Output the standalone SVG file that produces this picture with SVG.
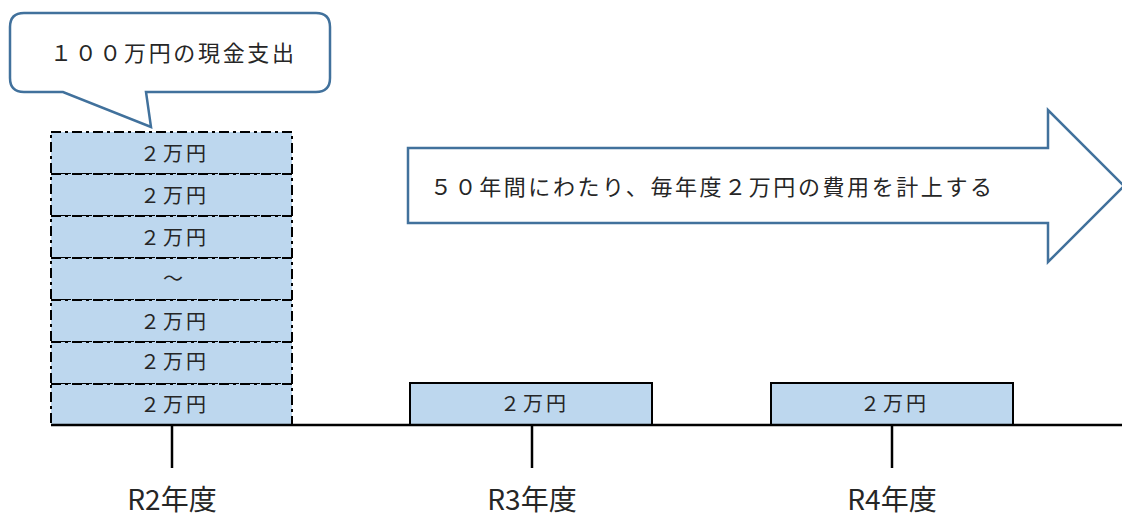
<svg xmlns="http://www.w3.org/2000/svg" width="1122" height="520" viewBox="0 0 1122 520">
<style>
.t{font-family:"Noto Sans CJK JP","Noto Sans",sans-serif;fill:#262626;}
.blue{fill:#fff;stroke:#41719C;stroke-width:2.5;stroke-linejoin:miter;}
.cell{fill:#BDD7EE;stroke:#000;stroke-width:2;stroke-dasharray:10,4,3,4;}
.box{fill:#BDD7EE;stroke:#000;stroke-width:2;}
.ln{stroke:#000;stroke-width:2.5;fill:none;}
</style>
<rect width="1122" height="520" fill="#fff"/>
<g id="callout">
<path class="blue" d="M24,13 H316 Q330,13 330,27 V78 Q330,92 316,92 H146 L151,127 L63,92 H24 Q10,92 10,78 V27 Q10,13 24,13 Z"/>
<text class="t" x="50" y="61" font-size="22" textLength="244" lengthAdjust="spacing">１００万円の現金支出</text>
</g>
<g id="stack">
<rect class="cell" x="51" y="132" width="241" height="42"/>
<rect class="cell" x="51" y="174" width="241" height="42"/>
<rect class="cell" x="51" y="216" width="241" height="42"/>
<rect class="cell" x="51" y="258" width="241" height="42"/>
<rect class="cell" x="51" y="300" width="241" height="42"/>
<rect class="cell" x="51" y="342" width="241" height="42"/>
<rect class="cell" x="51" y="384" width="241" height="41"/>
<g class="t" font-size="20">
<text x="140" y="161" textLength="66" lengthAdjust="spacing">２万円</text>
<text x="140" y="203" textLength="66" lengthAdjust="spacing">２万円</text>
<text x="140" y="245" textLength="66" lengthAdjust="spacing">２万円</text>
<text x="173" y="286" text-anchor="middle">～</text>
<text x="140" y="329" textLength="66" lengthAdjust="spacing">２万円</text>
<text x="140" y="369" textLength="66" lengthAdjust="spacing">２万円</text>
<text x="140" y="412" textLength="66" lengthAdjust="spacing">２万円</text>
</g>
</g>
<g id="arrow">
<path class="blue" d="M408,148 H1048 V110 L1124,186 L1048,262 V223 H408 Z"/>
<text class="t" x="430" y="195" font-size="22" textLength="562" lengthAdjust="spacing">５０年間にわたり、毎年度２万円の費用を計上する</text>
</g>
<g id="box-r3">
<rect class="box" x="410" y="383" width="242" height="42"/>
<text class="t" x="500" y="411" font-size="20" textLength="66" lengthAdjust="spacing">２万円</text>
</g>
<g id="box-r4">
<rect class="box" x="771" y="383" width="242" height="42"/>
<text class="t" x="860" y="411" font-size="20" textLength="66" lengthAdjust="spacing">２万円</text>
</g>
<g id="connectors">
<line class="ln" x1="51" y1="425" x2="1122" y2="425"/>
<line class="ln" x1="172" y1="425" x2="172" y2="468"/>
<line class="ln" x1="532" y1="425" x2="532" y2="468"/>
<line class="ln" x1="892" y1="425" x2="892" y2="468"/>
</g>
<g id="labels" class="t" font-size="28" text-anchor="middle">
<text x="172" y="510">R2年度</text>
<text x="532" y="510">R3年度</text>
<text x="892" y="510">R4年度</text>
</g>
</svg>
